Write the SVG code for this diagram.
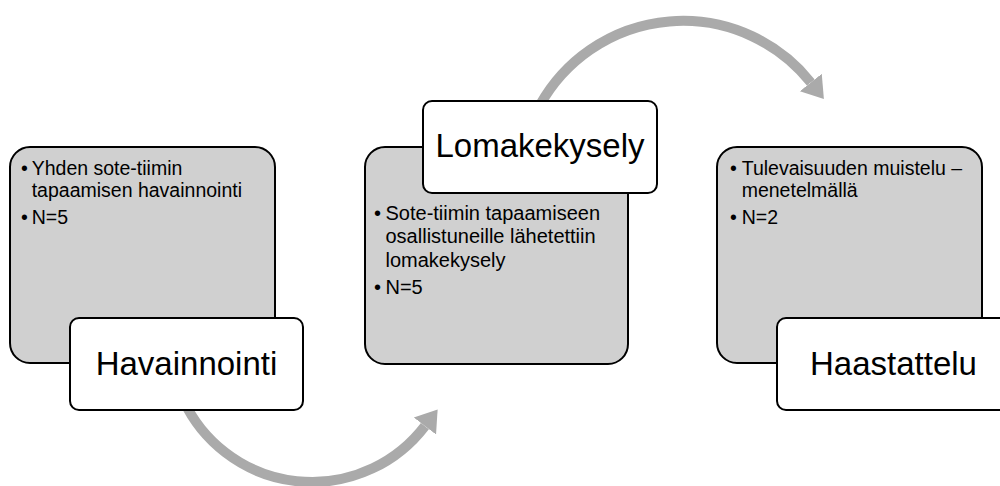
<svg xmlns="http://www.w3.org/2000/svg" width="1000" height="486" viewBox="0 0 1000 486">
<defs>
<style>
.card{fill:#d0d0d0;stroke:#000;stroke-width:2}
.lab{fill:#fff;stroke:#000;stroke-width:2}
.t{font-family:"Liberation Sans",Arial,sans-serif;font-size:19.5px;fill:#000}
.t2{font-family:"Liberation Sans",Arial,sans-serif;font-size:20px;fill:#000}
.big{font-family:"Liberation Sans",Arial,sans-serif;font-size:33px;fill:#000;text-anchor:middle}
.arc{fill:none;stroke:#aaaaaa;stroke-width:10}
</style>
<marker id="ah" markerUnits="userSpaceOnUse" markerWidth="24" markerHeight="32" refX="0" refY="15" orient="auto" viewBox="0 0 24 30">
<path d="M0,1 L21,15 L0,29 Z" fill="#aaaaaa"/>
</marker>
</defs>
<rect width="1000" height="486" fill="#fff"/>
<g id="connectors">
<path class="arc" d="M183.3,400 A142,142 0 0 0 424.9,426.1" marker-end="url(#ah)"/>
<path class="arc" d="M540,105 A163.5,163.5 0 0 1 810.8,82.5" marker-end="url(#ah)"/>
</g>
<g id="node-havainnointi">
<rect class="card" x="10" y="147" width="265" height="216" rx="20"/>
<text class="t" x="21" y="175">•</text>
<text class="t" x="31.7" y="175">Yhden sote-tiimin</text>
<text class="t" x="31.7" y="196.7">tapaamisen havainnointi</text>
<text class="t" x="21" y="224">•</text>
<text class="t" x="31.7" y="224">N=5</text>
<rect class="lab" x="70" y="318" width="233" height="92" rx="9"/>
<text class="big" x="186.5" y="375">Havainnointi</text>
</g>
<g id="node-lomakekysely">
<rect class="card" x="365" y="147" width="263" height="217" rx="20"/>
<text class="t2" x="374" y="220">•</text>
<text class="t2" x="385.5" y="220">Sote-tiimin tapaamiseen</text>
<text class="t2" x="385.5" y="243.3">osallistuneille lähetettiin</text>
<text class="t2" x="385.5" y="266.7">lomakekysely</text>
<text class="t2" x="374" y="294">•</text>
<text class="t2" x="385.5" y="294">N=5</text>
<rect class="lab" x="423" y="101" width="234" height="92" rx="9"/>
<text class="big" x="540" y="157">Lomakekysely</text>
</g>
<g id="node-haastattelu">
<rect class="card" x="717" y="147" width="265" height="216" rx="20"/>
<text class="t" x="730" y="175">•</text>
<text class="t" x="741.7" y="175">Tulevaisuuden muistelu –</text>
<text class="t" x="741.7" y="196.7">menetelmällä</text>
<text class="t" x="730" y="224">•</text>
<text class="t" x="741.7" y="224">N=2</text>
<rect class="lab" x="777" y="318" width="233" height="92" rx="9"/>
<text class="big" x="893.5" y="375">Haastattelu</text>
</g>
</svg>
